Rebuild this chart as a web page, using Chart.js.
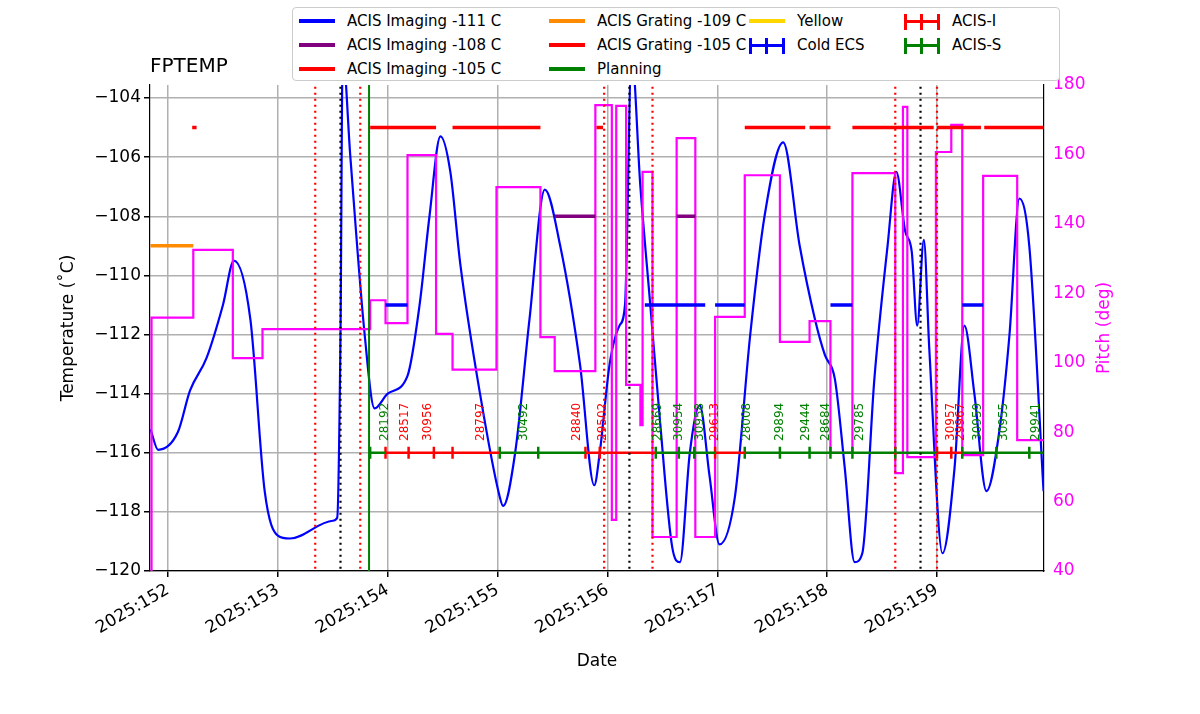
<!DOCTYPE html>
<html><head><meta charset="utf-8">
<script src="https://cdn.jsdelivr.net/npm/chart.js@4"></script>
<style>
body{margin:0;background:#fff;font-family:"DejaVu Sans";}
#wrap{position:relative;width:1200px;height:714px;}
#legend{position:absolute;left:292px;top:7px;width:768px;height:74px;border:1px solid #ccc;border-radius:4px;background:#fff;display:grid;grid-template-columns:250px 200px 155px 150px;grid-template-rows:24px 24px 24px;padding-left:6px;box-sizing:border-box;padding-top:1px;font-size:15px;z-index:2}
.li{display:flex;align-items:center;white-space:nowrap}
.sw{width:36px;height:4px;margin-right:12px;position:relative}
.cap:before,.cap:after{content:"";position:absolute;top:-6px;width:3px;height:16px;background:inherit}
.cap:before{left:0}.cap:after{right:0}
.mid{position:absolute;left:16px;top:-6px;width:3px;height:16px}
</style></head><body>
<div id="wrap"><canvas id="c" width="1200" height="714"></canvas><div id="legend"></div></div>
<script>
// Temperature curve (day-of-year, deg C)
const tempDays=[151.84,151.91,152.09,152.20,152.35,152.50,152.60,152.75,152.88,153.00,153.11,153.50,153.54,153.57,153.59,153.66,153.79,153.88,154.00,154.18,154.29,154.38,154.48,154.57,154.66,154.84,155.02,155.05,155.16,155.29,155.43,155.57,155.75,155.88,155.93,156.02,156.11,156.16,156.22,156.30,156.39,156.48,156.59,156.66,156.75,156.84,156.93,157.02,157.16,157.30,157.43,157.60,157.75,157.89,157.98,158.07,158.16,158.25,158.32,158.43,158.55,158.63,158.71,158.77,158.82,158.88,158.93,159.05,159.16,159.25,159.34,159.45,159.57,159.66,159.75,159.84,159.97];
const tempVals=[-115.2,-115.9,-115.3,-113.9,-112.8,-111.0,-109.5,-111.5,-117.3,-118.8,-118.9,-118.3,-118.2,-112,-102.5,-106,-112,-114.5,-114,-113.4,-111,-108,-105.3,-106.5,-109.6,-114,-117.5,-117.8,-116,-111.5,-107.1,-109,-113,-117.1,-116,-113,-111.7,-111,-102.5,-107,-111,-115,-119.2,-119.7,-116,-114.4,-116.8,-119.1,-117.5,-112,-108,-105.5,-109,-111.5,-112.7,-113.5,-116.5,-119.7,-119.4,-113.5,-109,-106.5,-108.5,-109.2,-111.7,-108.8,-112.5,-119.4,-116.5,-111.7,-114,-117.3,-115.2,-112,-107.4,-109,-117.3];
// Pitch (step, deg)
const pitchDays=[151.84,151.85,152.23,152.59,152.86,153.84,153.98,154.18,154.44,154.59,154.99,155.39,155.52,155.89,156.04,156.08,156.17,156.30,156.32,156.41,156.63,156.80,156.98,157.25,157.57,157.84,158.03,158.23,158.62,158.69,158.73,158.99,159.13,159.23,159.42,159.73,159.97];
const pitchVals=[40,113,132.5,101.3,109.7,118,111.4,159.8,108.3,98,150.6,107.4,97.6,174.2,54.7,174,93.6,82,155,49.8,164.7,49.8,113.2,154,106,112,74,154.6,68.2,173.7,72.8,160.7,168.5,73.4,153.8,77.7,77.7];
// Planned temperature limits: [start,end]
const lim105=[[152.22,152.26],[153.84,154.44],[154.59,155.39],[155.90,155.96],[157.25,157.80],[157.84,158.03],[158.23,158.97],[159.00,159.40],[159.43,159.97]];
const lim111=[[153.98,154.18],[156.34,156.89],[156.98,157.25],[158.03,158.23],[159.23,159.42]];
const lim108=[[155.52,155.89],[156.63,156.80]];
const lim109=[[151.84,152.23]];
// Vertical events
const redLines=[153.34,153.75,155.97,156.41,158.62,159.00];
const blackLines=[153.57,156.20,158.85];
const greenLines=[153.83];
// Obsids
const obsDays=[153.84,153.98,154.19,154.42,154.59,155.02,155.37,155.80,155.93,156.44,156.65,156.79,156.98,157.25,157.57,157.84,158.03,158.23,158.62,159.00,159.13,159.23,159.54,159.84];
const obsIds=["28192","28517","30956","28797","","30492","","28840","29502","28669","30954","30958","29613","28008","29894","29444","28684","29785","","30957","29967","30959","30955","29941"];
const obsInst=["S","I","I","I","I","S","S","I","I","S","S","S","I","S","S","S","S","S","S","I","I","S","S","S"];
const obsLabelDays=[153.97,154.16,154.37,154.85,null,155.24,null,155.72,155.96,156.46,156.65,156.84,156.98,157.27,157.57,157.81,157.99,158.30,null,159.13,159.22,159.37,159.61,159.90];

const segs=(arr,lev)=>{const d=[];arr.forEach(s=>{d.push({x:s[0],y:lev},{x:s[1],y:lev},{x:s[1],y:null});});return d;};
const vlines=(arr)=>{const d=[];arr.forEach(x=>{d.push({x:x,y:-125},{x:x,y:-100},{x:x,y:null});});return d;};
const obsSeg=(inst)=>{const d=[];for(let i=0;i<obsDays.length;i++){const e=i+1<obsDays.length?obsDays[i+1]:159.97;if(obsInst[i]===inst){d.push({x:obsDays[i],y:-116},{x:e,y:-116},{x:e,y:null});}}return d;};
const obsCaps=(inst)=>{const d=[];for(let i=0;i<obsDays.length;i++){if(obsInst[i]===inst)d.push({x:obsDays[i],y:-116});}return d;};

const xmin=151.836,xmax=159.974;
const ds=[
 {data:segs(lim109,-109),borderColor:'#ff8c00',borderWidth:3.5,yAxisID:'y'},
 {data:segs(lim105,-105),borderColor:'#ff0000',borderWidth:3.5,yAxisID:'y'},
 {data:segs(lim111,-111),borderColor:'#0000ff',borderWidth:3.5,yAxisID:'y'},
 {data:segs(lim108,-108),borderColor:'#800080',borderWidth:3.5,yAxisID:'y'},
 {data:vlines(redLines),borderColor:'#ff0000',borderWidth:2.2,borderDash:[2,4],yAxisID:'y'},
 {data:vlines(blackLines),borderColor:'#000',borderWidth:2.2,borderDash:[2,4],yAxisID:'y'},
 {data:vlines(greenLines),borderColor:'#008000',borderWidth:2,yAxisID:'y'},
 {data:obsSeg('I'),borderColor:'#ff0000',borderWidth:2.5,yAxisID:'y'},
 {data:obsSeg('S'),borderColor:'#008000',borderWidth:2.5,yAxisID:'y'},
 {data:obsCaps('I'),showLine:false,pointStyle:'line',rotation:90,pointRadius:6,borderColor:'#ff0000',pointBorderWidth:2.5,yAxisID:'y'},
 {data:obsCaps('S'),showLine:false,pointStyle:'line',rotation:90,pointRadius:6,borderColor:'#008000',pointBorderWidth:2.5,yAxisID:'y'},
 {data:pitchDays.map((x,i)=>({x,y:pitchVals[i]})),borderColor:'#ff00ff',borderWidth:2.2,stepped:'before',yAxisID:'y2'},
 {data:tempDays.map((x,i)=>({x,y:tempVals[i]})),borderColor:'#0000ff',borderWidth:2.2,cubicInterpolationMode:'monotone',yAxisID:'y'},
];
ds.forEach(d=>{d.pointRadius=d.pointRadius||0;d.spanGaps=false;d.fill=false;});

const textPlugin={id:'txt',afterDatasetsDraw(ch){const c=ch.ctx,xs=ch.scales.x,ys=ch.scales.y;c.save();
 c.font='12px "DejaVu Sans"';c.textAlign='left';c.textBaseline='middle';
 obsIds.forEach((id,i)=>{if(!id||obsLabelDays[i]==null)return;const px=xs.getPixelForValue(obsLabelDays[i]),py=ys.getPixelForValue(-115.6);
  c.save();c.translate(px,py);c.rotate(-Math.PI/2);c.fillStyle=obsInst[i]==='I'?'#ff0000':'#008000';c.fillText(id,0,0);c.restore();});
 c.font='20px "DejaVu Sans"';c.fillStyle='#000';c.textBaseline='alphabetic';c.fillText('FPTEMP',150,72);
 c.font='17px "DejaVu Sans"';c.textAlign='center';c.textBaseline='middle';
 c.fillText('Date',597,662);
 c.save();c.translate(69,328);c.rotate(-Math.PI/2);c.fillText('Temperature (\u02daC)',0,0);c.restore();
 c.save();c.translate(1105,328);c.rotate(-Math.PI/2);c.fillStyle='#ff00ff';c.fillText('Pitch (deg)',0,0);c.restore();
 c.restore();}};

Chart.defaults.font.family='"DejaVu Sans"';
Chart.defaults.color='#000';
new Chart(document.getElementById('c'),{type:'line',data:{datasets:ds},plugins:[textPlugin],
options:{responsive:false,animation:false,layout:{padding:{top:85,left:0,right:0,bottom:0}},
plugins:{legend:{display:false},tooltip:{enabled:false}},
scales:{
 x:{type:'linear',min:xmin,max:xmax,afterFit(s){s.height=143;},
  afterBuildTicks(s){s.ticks=[152,153,154,155,156,157,158,159].map(v=>({value:v}));},
  ticks:{callback:v=>'2025:'+v,maxRotation:30,minRotation:30,font:{size:17},color:'#000'},
  grid:{color:'#b0b0b0',lineWidth:1.5,tickColor:'#000',tickLength:6},border:{color:'#000',width:1.2}},
 y:{position:'left',min:-120,max:-103.56,afterFit(s){s.width=150;},
  afterBuildTicks(s){s.ticks=[-120,-118,-116,-114,-112,-110,-108,-106,-104].map(v=>({value:v}));},
  ticks:{callback:v=>'\u2212'+Math.abs(v),font:{size:17},color:'#000'},
  grid:{color:'#b0b0b0',lineWidth:1.5,tickColor:'#000',tickLength:6},border:{color:'#000',width:1.2}},
 y2:{position:'right',min:40,max:180,afterFit(s){s.width=156;},
  ticks:{stepSize:20,font:{size:17},color:'#ff00ff'},
  grid:{display:false,tickColor:'#000',tickLength:6},border:{color:'#000',width:1.2}}
}}});

const leg=[["ACIS Imaging -111 C","#0000ff",0],["ACIS Grating -109 C","#ff8c00",0],["Yellow","#ffd700",0],["ACIS-I","#ff0000",1],
["ACIS Imaging -108 C","#800080",0],["ACIS Grating -105 C","#ff0000",0],["Cold ECS","#0000ff",1],["ACIS-S","#008000",1],
["ACIS Imaging -105 C","#ff0000",0],["Planning","#008000",0]];
const L=document.getElementById('legend');
leg.forEach(l=>{const d=document.createElement('div');d.className='li';
 d.innerHTML=`<span class="sw${l[2]?' cap':''}" style="background:${l[1]};${l[2]?'height:3px':''}">${l[2]?`<span class="mid" style="background:${l[1]}"></span>`:''}</span>${l[0]}`;L.appendChild(d);});
</script></body></html>
